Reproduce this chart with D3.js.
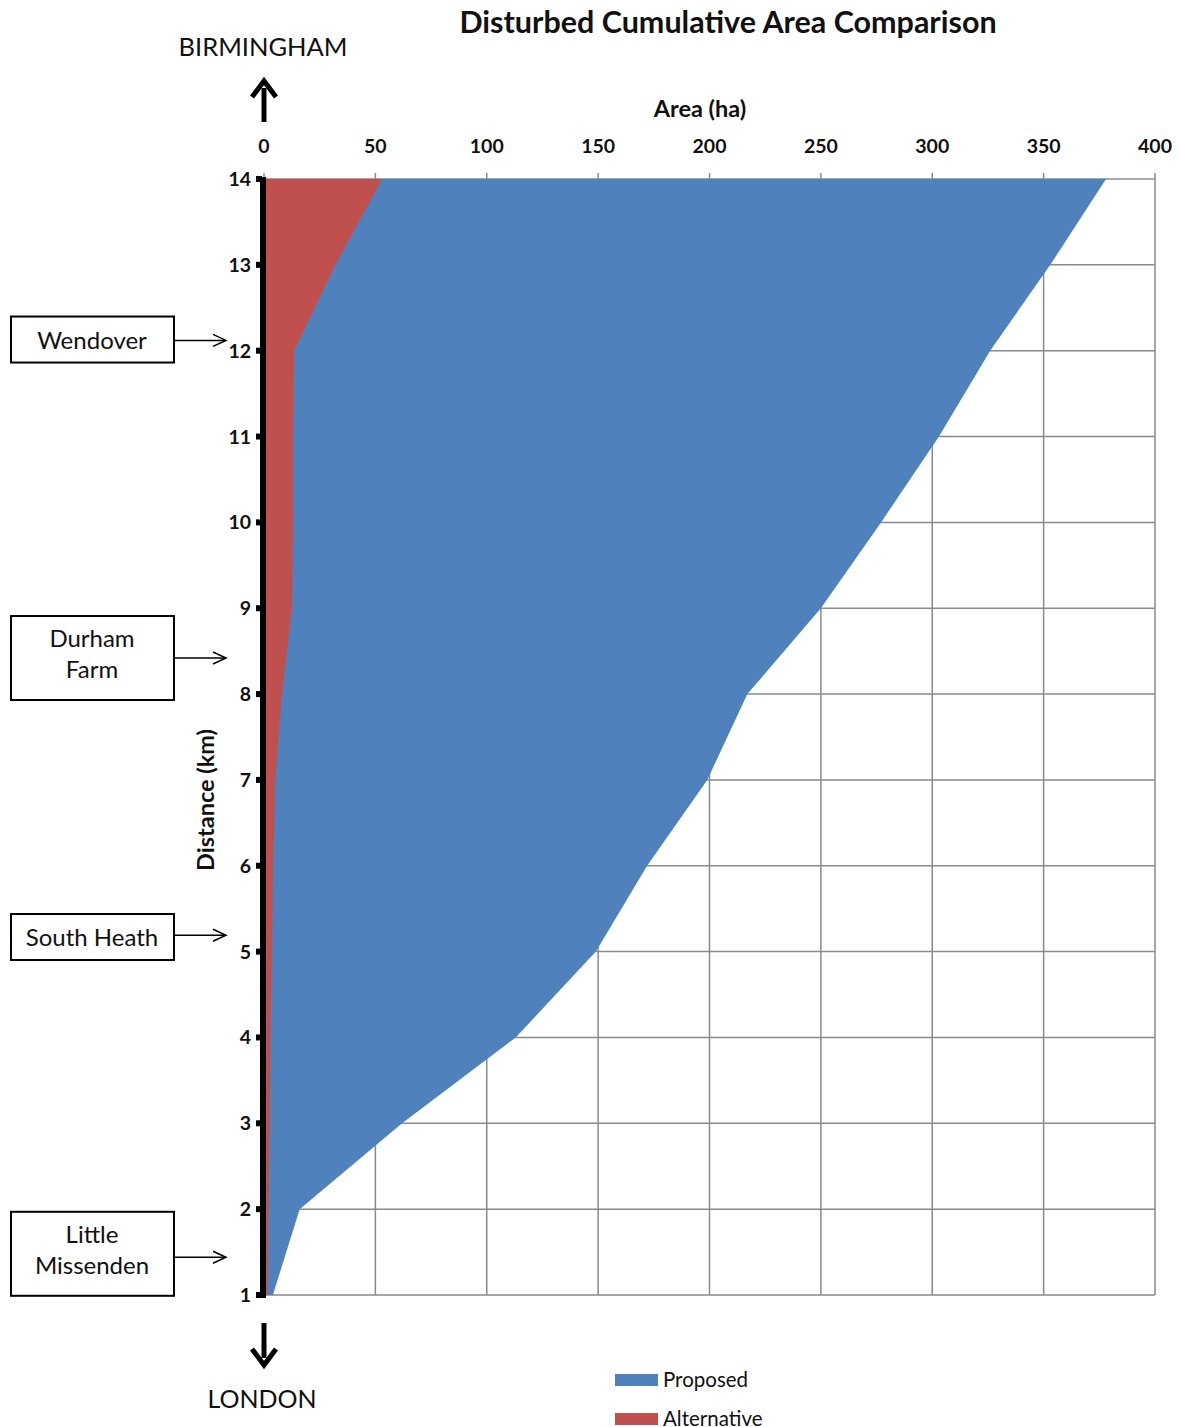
<!DOCTYPE html>
<html>
<head>
<meta charset="utf-8">
<script src="https://cdn.jsdelivr.net/npm/d3@7"></script>
<style>
body{margin:0;background:#fff;}
svg{display:block;font-family:Lato,"Open Sans",sans-serif;}
</style>
</head>
<body>
<svg id="c" width="1181" height="1427"></svg>
<script>
const distanceKm = [1,2,3,4,5,6,7,8,9,10,11,12,13,14];
const proposed = [4,16,62,113,149,172,199,217,250,277,303,326,353,378];
const alternative = [1.5,2,2.5,2.8,3.5,4,5,8,12.5,13,13,13.5,32,53];
const xTicks = [0,50,100,150,200,250,300,350,400];
const seriesNames = ["Proposed","Alternative"];
const seriesColors = ["#4F81BD","#C0504D"];
const places = [
  {name:["Wendover"],arrowKm:12.12,boxKm:12.13},
  {name:["Durham","Farm"],arrowKm:8.42,boxKm:8.42},
  {name:["South Heath"],arrowKm:5.19,boxKm:5.17},
  {name:["Little","Missenden"],arrowKm:1.44,boxKm:1.48}
];

const svg = d3.select("#c");
const x = d3.scaleLinear().domain([0,400]).range([264,1155]);
const y = d3.scaleLinear().domain([1,14]).range([1295,179]);

// gridlines
const grid = svg.append("g").attr("stroke","#8a8a8a").attr("stroke-width",1.5);
grid.selectAll("line.v").data(xTicks).enter().append("line")
  .attr("x1",d=>x(d)).attr("x2",d=>x(d)).attr("y1",y(14)-6).attr("y2",y(1));
grid.selectAll("line.h").data(distanceKm).enter().append("line")
  .attr("x1",x(0)).attr("x2",x(400)).attr("y1",d=>y(d)).attr("y2",d=>y(d));

// areas
const data = distanceKm.map((k,i)=>({k,p:proposed[i],a:alternative[i]}));
const areaP = d3.area().y(d=>y(d.k)).x0(x(0)).x1(d=>x(d.p));
const areaA = d3.area().y(d=>y(d.k)).x0(x(0)).x1(d=>x(d.a));
svg.append("path").datum(data).attr("d",areaP).attr("fill",seriesColors[0]);
svg.append("path").datum(data).attr("d",areaA).attr("fill",seriesColors[1]);

// x axis labels (top)
svg.append("g").selectAll("text").data(xTicks).enter().append("text")
  .attr("x",d=>x(d)).attr("y",153).attr("text-anchor","middle")
  .attr("font-size",19.5).attr("font-weight","bold").attr("fill","#111").text(d=>d);
svg.append("text").attr("x",700).attr("y",117).attr("text-anchor","middle")
  .attr("font-size",23.5).attr("font-weight","bold").attr("fill","#111").text("Area (ha)");

// y axis
svg.append("line").attr("x1",x(0)-1).attr("x2",x(0)-1).attr("y1",y(14)-2).attr("y2",y(1)+3)
  .attr("stroke","#000").attr("stroke-width",6);
svg.append("g").selectAll("rect").data(distanceKm).enter().append("rect")
  .attr("x",x(0)-8).attr("y",d=>y(d)-3).attr("width",6).attr("height",6).attr("fill","#000");
svg.append("g").selectAll("text").data(distanceKm).enter().append("text")
  .attr("x",251).attr("y",d=>y(d)+7).attr("text-anchor","end")
  .attr("font-size",19.5).attr("font-weight","bold").attr("fill","#111").text(d=>d);
svg.append("text").attr("transform","translate(214,800) rotate(-90)").attr("text-anchor","middle")
  .attr("font-size",23.5).attr("font-weight","bold").attr("fill","#111").text("Distance (km)");

// title
svg.append("text").attr("x",728).attr("y",33).attr("text-anchor","middle")
  .attr("font-size",30.5).attr("font-weight","bold").attr("fill","#111").text("Disturbed Cumulative Area Comparison");

// direction labels and arrows
svg.append("text").attr("x",263).attr("y",56).attr("text-anchor","middle")
  .attr("font-size",25.5).attr("fill","#111").text("BIRMINGHAM");
svg.append("text").attr("x",262).attr("y",1408).attr("text-anchor","middle")
  .attr("font-size",25).attr("fill","#111").text("LONDON");
svg.append("line").attr("x1",264).attr("x2",264).attr("y1",122).attr("y2",88).attr("stroke","#000").attr("stroke-width",5);
svg.append("path").attr("d","M252,97 L264,81 L276,97").attr("fill","none").attr("stroke","#000").attr("stroke-width",5);
svg.append("line").attr("x1",264).attr("x2",264).attr("y1",1323).attr("y2",1358).attr("stroke","#000").attr("stroke-width",5);
svg.append("path").attr("d","M252,1349 L264,1365 L276,1349").attr("fill","none").attr("stroke","#000").attr("stroke-width",5);

// place boxes
places.forEach(p=>{
  const cy = y(p.boxKm);
  const ay = y(p.arrowKm);
  const two = p.name.length===2;
  const h = two ? 84 : 46;
  const top = cy - h/2;
  svg.append("rect").attr("x",11).attr("y",top).attr("width",163).attr("height",h)
    .attr("fill","#fff").attr("stroke","#000").attr("stroke-width",2);
  p.name.forEach((t,i)=>{
    const by = two ? cy - 11 + i*31 : cy + 9;
    svg.append("text").attr("x",92).attr("y",by)
      .attr("text-anchor","middle").attr("font-size",24).attr("fill","#111").text(t);
  });
  svg.append("line").attr("x1",174).attr("x2",225).attr("y1",ay).attr("y2",ay).attr("stroke","#000").attr("stroke-width",1.5);
  svg.append("path").attr("d",`M213,${ay-6} L226,${ay} L213,${ay+6}`).attr("fill","none").attr("stroke","#000").attr("stroke-width",1.5);
});

// legend
const leg = svg.append("g");
seriesNames.forEach((n,i)=>{
  const ly = 1380 + i*39;
  leg.append("rect").attr("x",615).attr("y",ly-6).attr("width",43).attr("height",12).attr("fill",seriesColors[i]);
  leg.append("text").attr("x",663).attr("y",ly+7).attr("font-size",20.5).attr("fill","#111").text(n);
});
</script>
</body>
</html>
